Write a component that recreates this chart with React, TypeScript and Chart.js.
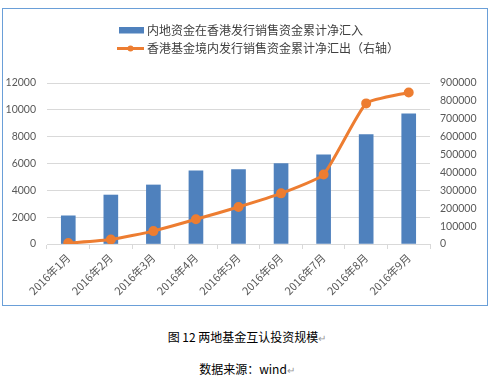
import React, { useEffect, useRef } from "react";
import { Chart, registerables } from "chart.js";

Chart.register(...registerables);

const months = ["2016年1月", "2016年2月", "2016年3月", "2016年4月", "2016年5月", "2016年6月", "2016年7月", "2016年8月", "2016年9月"];
const inflow = [2100, 3650, 4400, 5450, 5550, 6000, 6650, 8150, 9700];
const outflow = [5000, 25000, 72000, 138000, 207000, 283000, 389000, 786000, 847000];
const seriesNames = ["内地资金在香港发行销售资金累计净汇入", "香港基金境内发行销售资金累计净汇出（右轴）"];
const caption = "图 12 两地基金互认投资规模";
const source = "数据来源：wind";

const BLUE = "#4F81BD";
const ORANGE = "#ED7D31";
const GRID = "#D9D9D9";
const TEXT = "#595959";
const CJK = "'Noto Sans CJK SC', 'Noto Sans', sans-serif";
const NUM = "Lato, 'Noto Sans', sans-serif";

const legendPlugin = {
  id: "customLegend",
  afterDraw(chart: any) {
    const ctx = chart.ctx;
    ctx.save();
    const ox = -3, oy = -9;
    ctx.fillStyle = BLUE;
    ctx.fillRect(119 + ox, 27 + oy, 25, 6.5);
    ctx.strokeStyle = ORANGE;
    ctx.lineWidth = 3;
    ctx.beginPath();
    ctx.moveTo(117 + ox, 48.5 + oy);
    ctx.lineTo(144 + ox, 48.5 + oy);
    ctx.stroke();
    ctx.fillStyle = ORANGE;
    ctx.beginPath();
    ctx.arc(130.5 + ox, 48.5 + oy, 3, 0, Math.PI * 2);
    ctx.fill();
    ctx.fillStyle = "#404040";
    ctx.font = "12px " + CJK;
    ctx.textBaseline = "middle";
    ctx.textAlign = "left";
    ctx.fillText(seriesNames[0], 147 + ox, 30.5 + oy);
    ctx.fillText(seriesNames[1], 147 + ox, 48.5 + oy);
    ctx.restore();
  },
};

export default function App() {
  const ref = useRef<HTMLCanvasElement>(null);
  useEffect(() => {
    if (!ref.current) return;
    const chart = new Chart(ref.current, {
      type: "bar",
      data: {
        labels: months,
        datasets: [
          {
            type: "line",
            label: seriesNames[1],
            data: outflow,
            yAxisID: "y1",
            borderColor: ORANGE,
            backgroundColor: ORANGE,
            borderWidth: 3,
            pointRadius: 3.5,
            pointBackgroundColor: ORANGE,
            pointBorderColor: ORANGE,
            tension: 0.15,
            order: 0,
          } as any,
          {
            type: "bar",
            label: seriesNames[0],
            data: inflow,
            yAxisID: "y",
            backgroundColor: BLUE,
            barThickness: 14,
            order: 1,
          } as any,
        ],
      },
      plugins: [legendPlugin],
      options: {
        animation: false,
        responsive: false,
        devicePixelRatio: 1,
        layout: { padding: { top: 74, left: 0, right: 0, bottom: 0 } },
        plugins: { legend: { display: false }, tooltip: { enabled: false } },
        scales: {
          x: {
            offset: true,
            grid: {
              offset: true,
              display: true,
              drawOnChartArea: false,
              drawTicks: true,
              tickLength: 5,
              color: GRID,
            },
            border: { color: GRID },
            ticks: {
              minRotation: 45,
              maxRotation: 45,
              color: TEXT,
              font: { family: CJK, size: 11 },
              padding: 2,
            },
            afterFit(scale: any) {
              scale.height = 61;
            },
          },
          y: {
            position: "left",
            min: 0,
            max: 12000,
            ticks: {
              stepSize: 2000,
              color: TEXT,
              font: { family: NUM, size: 10.5 },
              padding: 11,
              callback: (v: any) => String(v),
            },
            grid: { color: GRID, drawTicks: false },
            border: { display: false },
            afterFit(scale: any) {
              scale.width = 44;
            },
          },
          y1: {
            position: "right",
            min: 0,
            max: 900000,
            ticks: {
              stepSize: 100000,
              color: TEXT,
              font: { family: NUM, size: 10.5 },
              padding: 10,
              callback: (v: any) => String(v),
            },
            grid: { drawOnChartArea: false, drawTicks: false },
            border: { display: false },
            afterFit(scale: any) {
              scale.width = 57;
            },
          },
        },
      },
    });
    return () => chart.destroy();
  }, []);

  return (
    <div style={{ position: "absolute", left: 0, top: 0, width: 494, height: 378, background: "#fff", fontFamily: CJK }}>
      <div
        style={{
          position: "absolute",
          left: 2,
          top: 8,
          width: 484,
          height: 296,
          border: "1px solid #6A9FD8",
        }}
      >
        <canvas ref={ref} width={484} height={296} style={{ width: 484, height: 296, display: "block" }} />
      </div>
      <div style={{ position: "absolute", left: 0, top: 328, width: 494, textAlign: "center", fontSize: 12, color: "#000", lineHeight: "18px" }}>
        {caption}
        <span style={{ color: "#999", fontSize: 10 }}>↵</span>
      </div>
      <div style={{ position: "absolute", left: 0, top: 360, width: 494, textAlign: "center", fontSize: 12, color: "#000", lineHeight: "18px" }}>
        {source}
        <span style={{ color: "#999", fontSize: 10 }}>↵</span>
      </div>
    </div>
  );
}
